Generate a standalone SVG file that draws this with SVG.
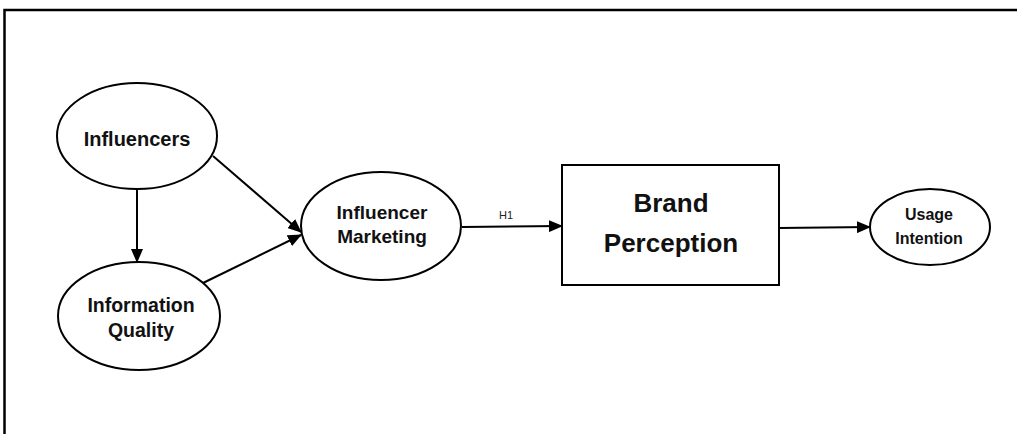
<svg xmlns="http://www.w3.org/2000/svg" width="1017" height="434" viewBox="0 0 1017 434">
<style>
.n{fill:#fff;stroke:#000;stroke-width:2}
.t{font-family:"Liberation Sans",Arial,sans-serif;font-weight:bold;fill:#111;text-anchor:middle}
.c{stroke:#000;stroke-width:2;fill:none;marker-end:url(#ah)}
</style>
<defs>
<marker id="ah" markerUnits="userSpaceOnUse" markerWidth="14" markerHeight="12" refX="13" refY="6" orient="auto">
<path d="M0,0 L14,6 L0,12 Z" fill="#000"/>
</marker>
</defs>
<rect width="1017" height="434" fill="#fff"/>
<g id="frame"><path d="M4.5,434 V10 H1017" fill="none" stroke="#000" stroke-width="2.5"/></g>
<g id="connectors">
<line class="c" x1="137" y1="190" x2="137" y2="262"/>
<line class="c" x1="213" y1="156" x2="301" y2="232"/>
<line class="c" x1="203" y1="283" x2="301" y2="235"/>
<line class="c" x1="462" y1="227" x2="562" y2="226"/>
<line class="c" x1="779" y1="228" x2="870" y2="227"/>
<text x="506" y="219" font-family="Liberation Sans,Arial,sans-serif" font-size="11" fill="#222" text-anchor="middle">H1</text>
</g>
<g id="influencers">
<ellipse class="n" cx="137" cy="136" rx="80" ry="53"/>
<text class="t" x="137" y="146" font-size="20">Influencers</text>
</g>
<g id="information-quality">
<ellipse class="n" cx="139" cy="316" rx="81" ry="54"/>
<text class="t" x="141" y="312" font-size="19.5">Information</text>
<text class="t" x="141" y="337" font-size="19.5">Quality</text>
</g>
<g id="influencer-marketing">
<ellipse class="n" cx="381" cy="226" rx="80" ry="54"/>
<text class="t" x="382" y="219" font-size="19">Influencer</text>
<text class="t" x="382" y="243" font-size="19">Marketing</text>
</g>
<g id="brand-perception">
<rect class="n" x="562" y="165" width="217" height="120"/>
<text class="t" x="671" y="212" font-size="26">Brand</text>
<text class="t" x="671" y="252" font-size="26">Perception</text>
</g>
<g id="usage-intention">
<ellipse class="n" cx="930" cy="227" rx="60" ry="38"/>
<text class="t" x="929" y="220" font-size="16">Usage</text>
<text class="t" x="929" y="244" font-size="16">Intention</text>
</g>
</svg>
